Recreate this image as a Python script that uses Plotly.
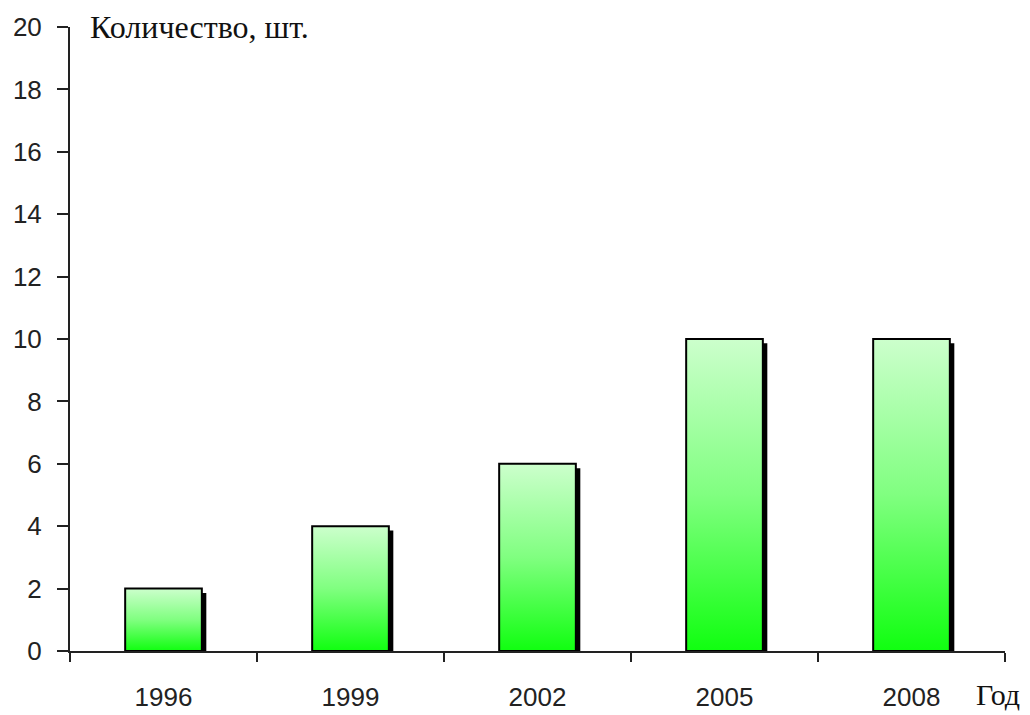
import plotly.graph_objects as go

years = ["1996", "1999", "2002", "2005", "2008"]
counts = [2, 4, 6, 10, 10]
y_ticks = list(range(0, 21, 2))

bar_w = 0.41
sh_dx = 0.024
sh_dy = 0.14

fig = go.Figure()
for i, v in enumerate(counts):
    x0, x1 = i - bar_w / 2, i + bar_w / 2
    # shadow
    fig.add_trace(go.Scatter(
        x=[x0 + sh_dx, x1 + sh_dx, x1 + sh_dx, x0 + sh_dx, x0 + sh_dx],
        y=[0, 0, v - sh_dy, v - sh_dy, 0],
        fill="toself", fillcolor="black", mode="lines",
        line=dict(color="black", width=0), hoverinfo="skip", showlegend=False))
    # bar with gradient
    fig.add_trace(go.Scatter(
        x=[x0, x1, x1, x0, x0],
        y=[0, 0, v, v, 0],
        fill="toself", mode="lines",
        fillgradient=dict(type="vertical",
                          colorscale=[[0, "#10ff10"], [0.5, "#80ff80"], [1, "#ccffcc"]]),
        line=dict(color="black", width=2), name=years[i], showlegend=False))

fig.update_layout(
    width=1030, height=715,
    margin=dict(l=70, r=25, t=27, b=64),
    plot_bgcolor="white", paper_bgcolor="white",
    font=dict(family="Liberation Sans", size=26, color="#222"),
    xaxis=dict(range=[-0.5, 4.5], tickvals=list(range(len(years))), ticktext=years,
               ticks="", showgrid=False, zeroline=False, showline=True, automargin=False,
               linecolor="#222", linewidth=2, ticklabelstandoff=22,
               minor=dict(tickvals=[i - 0.5 for i in range(len(years) + 1)],
                          ticks="outside", ticklen=9, tickcolor="#222", tickwidth=2)),
    yaxis=dict(range=[0, 20], tickvals=y_ticks, ticks="outside", ticklen=11,
               tickcolor="#222", tickwidth=2, showgrid=False, zeroline=False, automargin=False,
               showline=True, linecolor="#222", linewidth=2, ticklabelstandoff=10),
    annotations=[
        dict(text="Количество, шт.", xref="paper", yref="paper", x=0.019, y=1.0,
             xanchor="left", yanchor="middle", showarrow=False,
             font=dict(family="Liberation Serif", size=32, color="#111")),
        dict(text="Год", xref="paper", yref="paper", x=0.967, y=-0.0705,
             xanchor="left", yanchor="middle", showarrow=False,
             font=dict(family="Liberation Serif", size=30, color="#111")),
    ],
)

fig.write_html("out.html")
